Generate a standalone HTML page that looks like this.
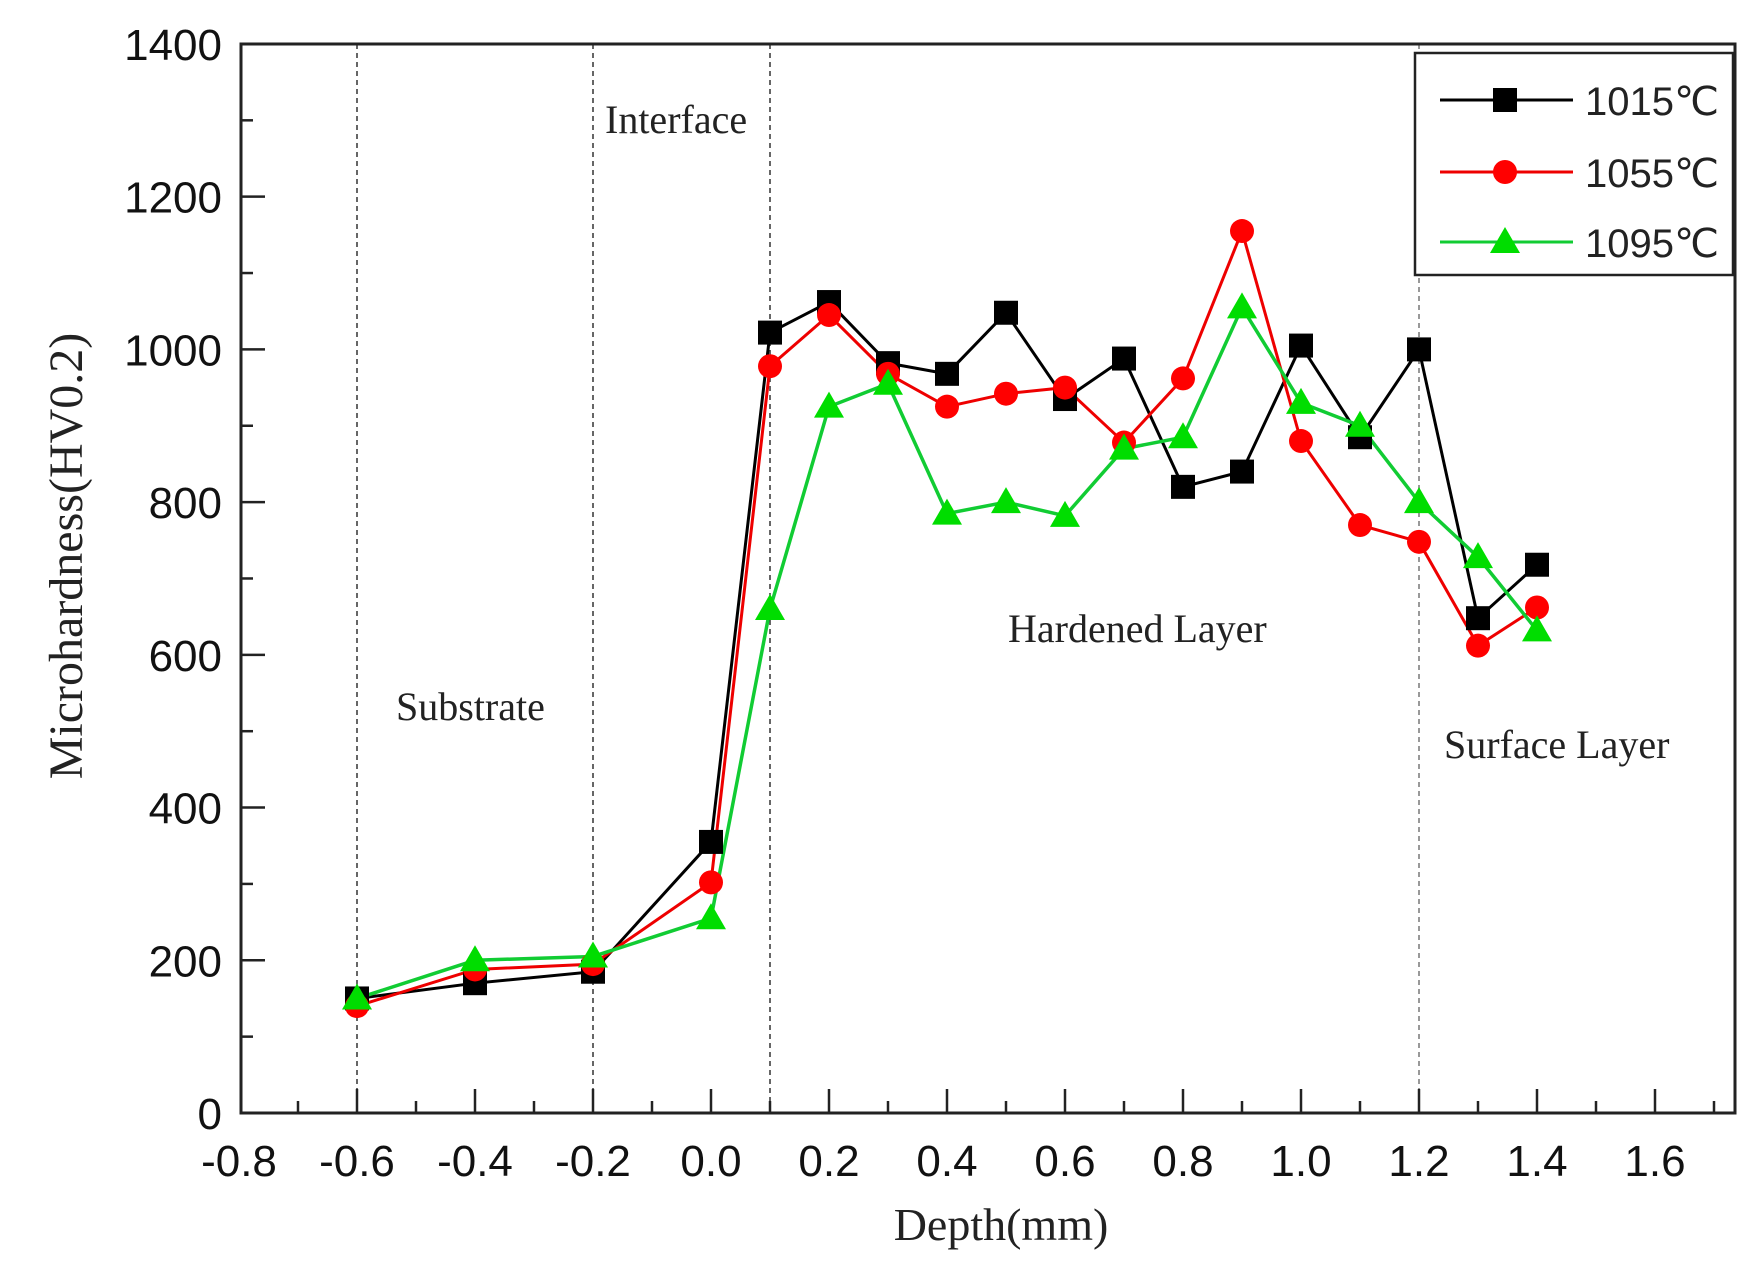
<!DOCTYPE html>
<html><head><meta charset="utf-8"><style>
html,body{margin:0;padding:0;background:#fff;}
svg{display:block;}
.tk{font-family:"Liberation Sans",sans-serif;font-size:44px;fill:#111;}
.sf{font-family:"Liberation Serif",serif;fill:#222;}
</style></head><body>
<svg id="s" width="1764" height="1276" xmlns="http://www.w3.org/2000/svg">
<rect width="1764" height="1276" fill="#fff"/>
<g id="g"></g>
<text class="sf" x="605" y="133" font-size="40" text-anchor="start">Interface</text>
<text class="sf" x="396" y="720" font-size="40">Substrate</text>
<text class="sf" x="1008" y="642" font-size="40">Hardened Layer</text>
<text class="sf" x="1444" y="758" font-size="40">Surface Layer</text>
<text class="sf" x="1001" y="1240" font-size="46" text-anchor="middle">Depth(mm)</text>
<text class="sf" x="0" y="0" font-size="48" text-anchor="middle" transform="translate(82,556) rotate(-90)">Microhardness(HV0.2)</text>
</svg>
<script>
var NS="http://www.w3.org/2000/svg",g=document.getElementById('g');
function X(v){return 357+(v+0.6)*590;}
function Y(v){return 1113-v*0.7636;}
function el(t,a,txt){var e=document.createElementNS(NS,t);for(var k in a)e.setAttribute(k,a[k]);if(txt!=null)e.textContent=txt;g.appendChild(e);return e;}
[-0.6,-0.2,0.1].forEach(function(v){el('line',{x1:X(v),x2:X(v),y1:44,y2:1113,stroke:'#333','stroke-width':1.5,'stroke-dasharray':'5,4'});});
el('line',{x1:X(1.2),x2:X(1.2),y1:44,y2:1113,stroke:'#999','stroke-width':2,'stroke-dasharray':'5,4'});
el('rect',{x:241,y:44,width:1494,height:1069,fill:'none',stroke:'#222','stroke-width':3});
for(var i=-8;i<=17;i++){var v=i/10,x=X(v);if(x<242||x>1734)continue;var maj=(i%2==0);
el('line',{x1:x,x2:x,y1:1113,y2:1113-(maj?24:12),stroke:'#222','stroke-width':2.5});
if(maj)el('text',{x:x,y:1176,'text-anchor':'middle','class':'tk'},v.toFixed(1));}
el('text',{x:X(-0.8),y:1176,'text-anchor':'middle','class':'tk'},'-0.8');
for(var j=0;j<=1400;j+=100){var y=Y(j),maj=(j%200==0);
el('line',{x1:241,x2:241+(maj?24:12),y1:y,y2:y,stroke:'#222','stroke-width':2.5});
if(maj)el('text',{x:222,y:y+16,'text-anchor':'end','class':'tk'},String(j));}
var xs=[-0.6,-0.4,-0.2,0,0.1,0.2,0.3,0.4,0.5,0.6,0.7,0.8,0.9,1.0,1.1,1.2,1.3,1.4];
var S=[
{c:'#000',lc:'#000',w:3,m:'s',d:[150,170,185,355,1022,1062,982,968,1048,935,988,820,840,1005,885,1000,648,718]},
{c:'#f00',lc:'#e00',w:3,m:'c',d:[140,188,195,302,978,1045,968,925,942,950,878,962,1155,880,770,748,612,662]},
{c:'#0d0',lc:'#1c3',w:3.5,m:'t',d:[150,200,205,255,660,925,955,785,800,782,870,885,1055,930,900,800,728,632]}];
function mk(m,x,y,c){
if(m=='s')el('rect',{x:x-12,y:y-12,width:24,height:24,fill:c});
else if(m=='c')el('circle',{cx:x,cy:y,r:12,fill:c});
else el('polygon',{points:(x)+','+(y-15)+' '+(x-15)+','+(y+11)+' '+(x+15)+','+(y+11),fill:c});}
S.forEach(function(s){var p=xs.map(function(v,i){return X(v)+','+Y(s.d[i]);}).join(' ');
el('polyline',{points:p,fill:'none',stroke:s.lc,'stroke-width':s.w});});
S.forEach(function(s){xs.forEach(function(v,i){mk(s.m,X(v),Y(s.d[i]),s.c);});});
el('rect',{x:1415,y:53,width:318,height:222,fill:'#fff',stroke:'#222','stroke-width':2.5});
var ly=[100,172,242],lab=['1015℃','1055℃','1095℃'];
S.forEach(function(s,i){el('line',{x1:1440,x2:1573,y1:ly[i],y2:ly[i],stroke:s.lc,'stroke-width':3});
mk(s.m,1505,ly[i],s.c);
el('text',{x:1585,y:ly[i]+15,'font-size':40,'font-family':'Liberation Sans, DejaVu Sans, sans-serif',fill:'#222'},lab[i]);});
</script>
</body></html>
